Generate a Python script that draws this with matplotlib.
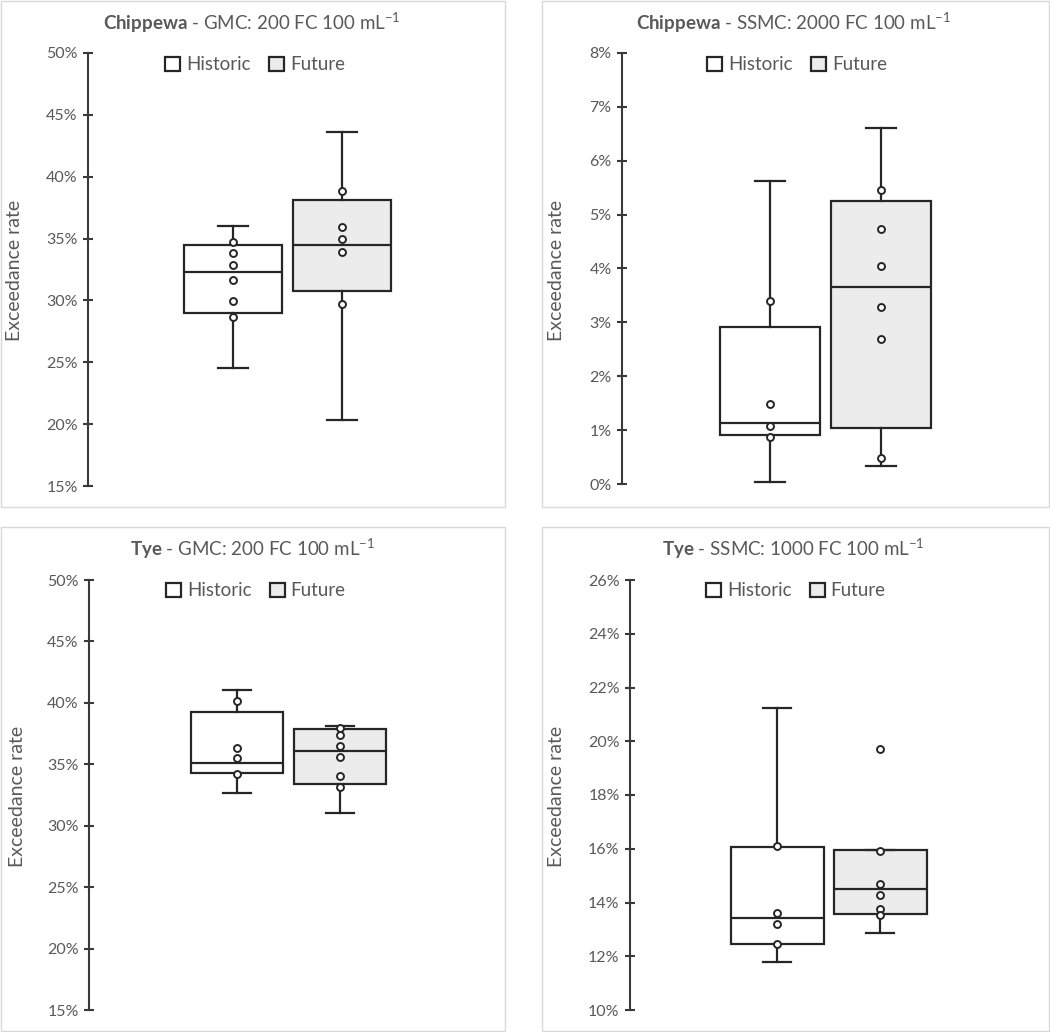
import matplotlib.pyplot as plt
from matplotlib.patches import Patch, Rectangle
from matplotlib.ticker import MultipleLocator, PercentFormatter

plt.rcParams['font.family'] = ['Lato', 'DejaVu Sans']
plt.rcParams['mathtext.fontset'] = 'custom'
plt.rcParams['mathtext.rm'] = 'Lato'
plt.rcParams['mathtext.bf'] = 'Lato:bold'

# values are exceedance rates in %
sites = ['Chippewa', 'Chippewa', 'Tye', 'Tye']
criteria = ['GMC: 200 FC 100 mL', 'SSMC: 2000 FC 100 mL', 'GMC: 200 FC 100 mL', 'SSMC: 1000 FC 100 mL']
series = ['Historic', 'Future']

# [whisker low, Q1, median, Q3, whisker high]
chip_gmc_hist = [24.5, 29.0, 32.3, 34.45, 36.0]
chip_gmc_fut = [20.3, 30.75, 34.47, 38.13, 43.6]
chip_ssmc_hist = [0.03, 0.91, 1.13, 2.92, 5.62]
chip_ssmc_fut = [0.34, 1.04, 3.66, 5.26, 6.61]
tye_gmc_hist = [32.65, 34.26, 35.08, 39.23, 41.05]
tye_gmc_fut = [31.0, 33.4, 36.08, 37.85, 38.12]
tye_ssmc_hist = [11.77, 12.47, 13.41, 16.08, 21.23]
tye_ssmc_fut = [12.88, 13.58, 14.5, 15.95, 15.95]

# individual points
chip_gmc_hist_pts = [34.71, 33.87, 32.9, 31.66, 29.94, 28.7]
chip_gmc_fut_pts = [38.88, 35.97, 34.95, 33.9, 29.73]
chip_ssmc_hist_pts = [3.39, 1.48, 1.08, 0.88]
chip_ssmc_fut_pts = [5.45, 4.73, 4.05, 3.28, 2.69, 0.49]
tye_gmc_hist_pts = [40.15, 36.33, 35.49, 34.21]
tye_gmc_fut_pts = [37.93, 37.41, 36.51, 35.59, 34.02, 33.18]
tye_ssmc_hist_pts = [16.09, 13.62, 13.19, 12.44]
tye_ssmc_fut_pts = [19.72, 15.93, 14.7, 14.29, 13.77, 13.53]

yranges = [(15, 50, 5), (0, 8, 1), (15, 50, 5), (10, 26, 2)]

hist_stats = [chip_gmc_hist, chip_ssmc_hist, tye_gmc_hist, tye_ssmc_hist]
fut_stats = [chip_gmc_fut, chip_ssmc_fut, tye_gmc_fut, tye_ssmc_fut]
hist_pts = [chip_gmc_hist_pts, chip_ssmc_hist_pts, tye_gmc_hist_pts, tye_ssmc_hist_pts]
fut_pts = [chip_gmc_fut_pts, chip_ssmc_fut_pts, tye_gmc_fut_pts, tye_ssmc_fut_pts]

W, H = 1050, 1032
fig = plt.figure(figsize=(W / 100, H / 100), dpi=100)

# layout in pixels
frames = [(1, 1, 505, 507), (542, 1, 1049, 507), (1, 527, 505, 1031), (542, 527, 1049, 1031)]
axes_px = [(88, 53, 488, 486), (622, 53, 1022, 484), (89, 580, 489, 1010), (630, 580, 1030, 1010)]
centers_px = [(233, 342), (770, 880.7), (237, 340), (777.3, 880.3)]
title_px = [(252, 23), (794, 23), (253, 549), (793, 549)]
legend_px = [(255, 65), (797, 65), (256, 591), (796, 591)]
ylabel_px = [(23, 270), (565, 270), (26, 796), (565, 796)]

txt = '#595959'
line = '#262626'

for i in range(4):
    fx0, fy0, fx1, fy1 = frames[i]
    fig.patches.append(Rectangle((fx0 / W, 1 - fy1 / H), (fx1 - fx0) / W, (fy1 - fy0) / H,
                                 transform=fig.transFigure, fill=False, edgecolor='#d9d9d9', lw=1))

    l, t, r, b = axes_px[i]
    ax = fig.add_axes([l / W, 1 - b / H, (r - l) / W, (b - t) / H])
    c1, c2 = centers_px[i]
    s = c2 - c1
    x0 = 1 - (c1 - l) / s
    ax.set_xlim(x0, x0 + (r - l) / s)

    stats = []
    for st in (hist_stats[i], fut_stats[i]):
        stats.append({'whislo': st[0], 'q1': st[1], 'med': st[2], 'q3': st[3], 'whishi': st[4]})
    bp = ax.bxp(stats, positions=[1, 2], widths=0.9, capwidths=0.27, patch_artist=True,
                showfliers=False,
                boxprops=dict(edgecolor=line, linewidth=1.6),
                medianprops=dict(color=line, linewidth=1.6),
                whiskerprops=dict(color=line, linewidth=1.6),
                capprops=dict(color=line, linewidth=1.6))
    bp['boxes'][0].set_facecolor('white')
    bp['boxes'][1].set_facecolor('#ececec')

    ax.plot([1] * len(hist_pts[i]), hist_pts[i], 'o', ms=5, mfc='white', mec=line, mew=1.4, zorder=5)
    ax.plot([2] * len(fut_pts[i]), fut_pts[i], 'o', ms=5, mfc='white', mec=line, mew=1.4, zorder=5)

    lo, hi, step = yranges[i]
    ax.set_ylim(lo, hi)
    ax.yaxis.set_major_locator(MultipleLocator(step))
    ax.yaxis.set_major_formatter(PercentFormatter(decimals=0))
    for sp in ['top', 'right', 'bottom']:
        ax.spines[sp].set_visible(False)
    ax.spines['left'].set_color('#3a3a3a')
    ax.spines['left'].set_linewidth(1.5)
    ax.set_xticks([])
    ax.tick_params(axis='y', direction='inout', length=7, width=1.5, color='#3a3a3a',
                   labelsize=11.5, labelcolor=txt, pad=4)

    ax.set_ylabel('Exceedance rate', fontsize=14, color=txt)
    ax.yaxis.set_label_coords(ylabel_px[i][0] / W, 1 - ylabel_px[i][1] / H, transform=fig.transFigure)

    fig.text(title_px[i][0] / W, 1 - title_px[i][1] / H,
             r'$\mathbf{' + sites[i] + '}$ - ' + criteria[i] + r'$^{-1}$',
             ha='center', va='center', fontsize=13.5, color=txt)

    handles = [Patch(facecolor='white', edgecolor=line, lw=1.6, label=series[0]),
               Patch(facecolor='#ececec', edgecolor=line, lw=1.6, label=series[1])]
    ax.legend(handles=handles, loc='center', ncol=2, frameon=False, fontsize=13.5,
              bbox_to_anchor=(legend_px[i][0] / W, 1 - legend_px[i][1] / H),
              bbox_transform=fig.transFigure, handlelength=0.8, handleheight=0.8,
              handletextpad=0.3, columnspacing=1.0, labelcolor=txt)

fig.savefig('out.png', dpi=100, facecolor='white')
